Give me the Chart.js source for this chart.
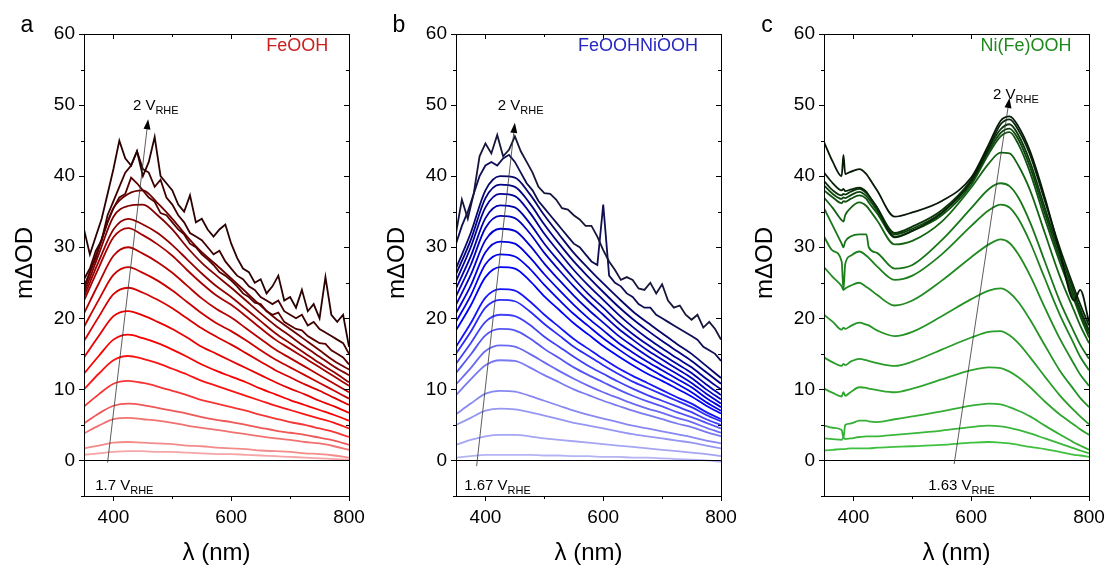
<!DOCTYPE html>
<html lang="en">
<head>
<meta charset="UTF-8">
<title>Spectroelectrochemistry of FeOOH, FeOOHNiOOH and Ni(Fe)OOH</title>
<style>
  body { margin: 0; background: #fff; width: 1110px; height: 572px; overflow: hidden; }
  .panel { position: absolute; top: 0; width: 370px; height: 572px; }
</style>
<script src="https://cdn.jsdelivr.net/npm/chart.js"></script>
</head>
<body>
<div class="panel" style="left:0"><canvas id="chartA"></canvas></div>
<div class="panel" style="left:372px"><canvas id="chartB"></canvas></div>
<div class="panel" style="left:740px"><canvas id="chartC"></canvas></div>

<script>
// wavelength grids (nm)
const wlCoarse = [350, 375, 400, 425, 450, 475, 500, 525, 550, 575, 600, 625, 650, 675, 700, 725, 750, 775, 800];
const wlFine = [350, 360, 370, 380, 390, 400, 410, 420, 430, 440, 450, 460, 470, 480, 490, 500, 510, 520, 530, 540,
                550, 560, 570, 580, 590, 600, 610, 620, 630, 640, 650, 660, 670, 680, 690, 700, 710, 720, 730, 740,
                750, 760, 770, 780, 790, 800];
const wlNiFe = [350, 365, 380, 383, 386, 395, 410, 422, 426, 440, 470, 500, 550, 600, 630, 650, 665, 680, 700, 725, 750, 775, 785, 800];

const xTickLabels = [400, 600, 800];
const yTickLabels = [0, 10, 20, 30, 40, 50, 60];

// panel a: FeOOH, 1.7 V -> 2 V (mΔOD)
const feooh01 = [0.8, 1.0, 1.2, 1.3, 1.3, 1.2, 1.2, 1.1, 1.0, 0.9, 0.9, 0.8, 0.7, 0.6, 0.5, 0.4, 0.3, 0.2, 0.1];
const feooh02 = [1.7, 2.1, 2.5, 2.6, 2.5, 2.4, 2.3, 2.1, 2.0, 1.8, 1.7, 1.6, 1.4, 1.3, 1.2, 1.0, 0.9, 0.7, 0.4];
const feooh03 = [3.8, 4.9, 5.8, 6.0, 5.8, 5.6, 5.3, 4.9, 4.6, 4.3, 4.0, 3.7, 3.4, 3.1, 2.9, 2.6, 2.4, 2.0, 1.5];
const feooh04 = [5.2, 6.6, 7.7, 8.0, 7.8, 7.4, 7.0, 6.6, 6.1, 5.7, 5.4, 5.0, 4.6, 4.2, 3.9, 3.6, 3.2, 2.8, 2.2];
const feooh05 = [7.6, 9.3, 10.8, 11.2, 10.9, 10.4, 9.8, 9.2, 8.5, 8.0, 7.5, 7.0, 6.4, 5.9, 5.4, 5.0, 4.5, 4.0, 3.3];
const feooh06 = [10.0, 12.2, 14.1, 14.7, 14.3, 13.7, 12.9, 12.1, 11.2, 10.5, 9.8, 9.1, 8.4, 7.7, 7.1, 6.5, 5.9, 5.3, 4.5];
const feooh07 = [12.2, 14.7, 17.0, 17.7, 17.2, 16.5, 15.6, 14.6, 13.5, 12.6, 11.8, 11.0, 10.1, 9.3, 8.5, 7.8, 7.1, 6.4, 5.6];
const feooh08 = [14.5, 17.5, 20.3, 21.0, 20.4, 19.5, 18.5, 17.3, 16.0, 15.0, 14.0, 13.0, 12.0, 11.0, 10.1, 9.3, 8.4, 7.6, 6.7];
const feooh09 = [16.8, 20.2, 23.4, 24.3, 23.6, 22.6, 21.4, 20.0, 18.6, 17.4, 16.3, 15.1, 13.9, 12.7, 11.7, 10.7, 9.8, 8.8, 7.8];
const feooh10 = [18.8, 22.6, 26.1, 27.2, 26.4, 25.3, 23.9, 22.3, 20.7, 19.3, 18.2, 16.9, 15.5, 14.2, 13.1, 12.0, 10.9, 9.8, 8.7];
const feooh11 = [20.7, 24.9, 28.8, 30.0, 29.1, 27.9, 26.4, 24.6, 22.8, 21.3, 20.1, 18.6, 17.1, 15.6, 14.4, 13.2, 12.0, 10.8, 9.6];
const feooh12 = [22.5, 27.1, 31.4, 32.7, 31.7, 30.4, 28.8, 26.8, 24.9, 23.2, 21.9, 20.3, 18.6, 17.0, 15.7, 14.4, 13.1, 11.8, 10.5];
const feooh13 = [23.0, 28.0, 32.5, 34.0, 33.2, 32.0, 30.3, 28.3, 26.3, 24.5, 23.0, 21.3, 19.6, 17.9, 16.5, 15.1, 13.7, 12.4, 11.0];
const feooh14 = [23.5, 29.0, 34.3, 35.8, 36.0, 34.5, 32.5, 30.0, 27.8, 26.0, 24.3, 22.5, 20.7, 19.0, 17.5, 16.0, 14.6, 13.2, 12.0];
const feooh15 = [24.0, 30.0, 35.5, 37.5, 38.0, 36.2, 34.0, 31.5, 29.3, 27.5, 25.6, 23.7, 21.8, 20.0, 18.5, 17.0, 15.5, 14.0, 12.8];
const feooh16 = [24.5, 26.5, 28.5, 31.0, 33.5, 35.5, 37.0, 37.5, 39.8, 39.0, 38.0, 37.0, 36.4, 34.8, 34.5, 33.5, 32.5, 31.8, 30.5, 30.0,
                 29.0, 28.3, 27.5, 26.5, 26.0, 25.3, 24.5, 23.5, 23.0, 22.2, 22.0, 21.0, 20.5, 20.8, 19.5, 19.0, 18.5, 18.3, 17.5, 17.0,
                 16.5, 16.4, 15.5, 15.0, 14.5, 13.5];
const feooh17 = [25.5, 27.0, 29.5, 31.0, 34.5, 36.5, 38.5, 40.5, 41.5, 43.5, 41.0, 40.5, 38.5, 39.5, 37.0, 36.0, 34.5, 33.5, 32.0, 31.5,
                 31.0, 30.0, 29.0, 29.5, 28.0, 27.0, 26.0, 25.5, 24.5, 24.0, 23.0, 22.5, 22.0, 22.5, 21.0, 20.5, 20.0, 20.5, 19.0, 19.5,
                 18.5, 18.0, 17.5, 17.0, 16.5, 15.0];
const feooh18 = [32.5, 29.0, 31.5, 34.0, 37.5, 41.0, 45.0, 42.5, 41.5, 43.5, 40.0, 42.0, 45.5, 40.0, 39.0, 38.0, 36.0, 35.0, 37.3, 33.5,
                 34.0, 32.5, 31.5, 32.5, 33.2, 30.5, 28.5, 27.0, 26.5, 25.0, 25.5, 23.5, 24.5, 26.0, 22.5, 23.0, 21.5, 24.0, 21.0, 22.0,
                 20.0, 25.8, 20.5, 19.5, 20.5, 16.0];

// panel b: FeOOHNiOOH, 1.67 V -> 2 V
const feni01 = [0.4, 0.6, 0.8, 0.8, 0.8, 0.8, 0.7, 0.7, 0.6, 0.6, 0.5, 0.5, 0.4, 0.4, 0.3, 0.2, 0.1, 0.0, -0.2];
const feni02 = [2.2, 2.9, 3.4, 3.6, 3.6, 3.4, 3.1, 2.9, 2.7, 2.5, 2.3, 2.1, 1.9, 1.7, 1.5, 1.3, 1.1, 0.9, 0.6];
const feni03 = [5.0, 6.0, 7.0, 7.3, 7.2, 6.8, 6.3, 5.8, 5.3, 4.9, 4.5, 4.1, 3.7, 3.4, 3.1, 2.8, 2.5, 2.1, 1.7];
const feni04 = [6.5, 8.0, 9.4, 9.8, 9.7, 9.1, 8.4, 7.7, 7.0, 6.4, 5.9, 5.4, 4.9, 4.5, 4.1, 3.7, 3.3, 2.8, 2.4];
const feni05 = [9.2, 11.4, 13.4, 14.1, 14.0, 13.1, 12.0, 11.0, 10.0, 9.2, 8.4, 7.7, 7.0, 6.4, 5.8, 5.2, 4.7, 4.0, 3.4];
const feni06 = [10.7, 13.0, 15.4, 16.2, 16.0, 15.0, 13.8, 12.6, 11.5, 10.5, 9.6, 8.8, 8.0, 7.3, 6.7, 6.0, 5.4, 4.6, 3.9];
const feni07 = [12.3, 14.9, 17.6, 18.5, 18.3, 17.2, 15.7, 14.4, 13.1, 12.0, 11.0, 10.0, 9.1, 8.3, 7.6, 6.8, 6.1, 5.3, 4.5];
const feni08 = [13.6, 16.5, 19.5, 20.5, 20.3, 19.1, 17.4, 16.0, 14.6, 13.3, 12.2, 11.1, 10.1, 9.2, 8.4, 7.6, 6.8, 5.8, 5.0];
const feni09 = [15.0, 18.1, 21.5, 22.6, 22.4, 21.0, 19.2, 17.6, 16.0, 14.7, 13.4, 12.2, 11.1, 10.2, 9.3, 8.4, 7.5, 6.4, 5.5];
const feni10 = [16.0, 19.3, 22.9, 24.1, 23.9, 22.4, 20.5, 18.8, 17.1, 15.7, 14.3, 13.0, 11.9, 10.9, 9.9, 8.9, 8.0, 6.8, 5.8];
const feni11 = [18.3, 21.8, 25.8, 27.2, 27.0, 25.3, 23.1, 21.2, 19.3, 17.7, 16.1, 14.7, 13.4, 12.2, 11.2, 10.1, 9.0, 7.7, 6.6];
const feni12 = [19.5, 23.2, 27.6, 29.0, 28.7, 27.0, 24.7, 22.6, 20.6, 18.9, 17.2, 15.7, 14.3, 13.1, 11.9, 10.8, 9.6, 8.2, 7.0];
const feni13 = [20.7, 24.6, 29.3, 30.8, 30.5, 28.6, 26.2, 24.0, 21.9, 20.0, 18.3, 16.6, 15.2, 13.9, 12.7, 11.5, 10.3, 8.8, 7.5];
const feni14 = [21.9, 26.1, 31.0, 32.6, 32.3, 30.3, 27.7, 25.4, 23.2, 21.2, 19.4, 17.6, 16.1, 14.7, 13.4, 12.2, 10.9, 9.4, 8.0];
const feni15 = [23.1, 27.5, 32.7, 34.4, 34.1, 32.0, 29.2, 26.8, 24.5, 22.4, 20.5, 18.6, 17.0, 15.5, 14.2, 12.9, 11.6, 10.0, 8.6];
const feni16 = [24.2, 28.7, 34.1, 35.9, 35.6, 33.4, 30.5, 28.0, 25.6, 23.4, 21.5, 19.5, 17.8, 16.3, 14.9, 13.6, 12.3, 10.7, 9.2];
const feni17 = [25.2, 30.0, 35.6, 37.5, 37.2, 34.9, 31.9, 29.3, 26.8, 24.6, 22.6, 20.6, 18.8, 17.2, 15.8, 14.4, 13.1, 11.5, 10.0];
const feni18 = [26.2, 31.0, 36.9, 38.8, 38.5, 36.2, 33.2, 30.5, 28.0, 25.8, 23.7, 21.7, 19.9, 18.3, 16.8, 15.4, 14.0, 12.4, 10.8];
const feni19 = [27.0, 32.0, 38.0, 40.0, 39.8, 37.5, 34.5, 31.8, 29.2, 27.0, 24.9, 22.9, 21.0, 19.4, 17.9, 16.4, 15.0, 13.3, 11.6];
const feni20 = [30.5, 33.0, 35.0, 37.5, 40.0, 41.5, 42.0, 41.5, 42.5, 43.0, 42.0, 40.5, 39.0, 38.0, 36.5, 35.5, 34.5, 33.5, 32.5, 31.5,
                30.5, 30.0, 29.0, 28.0, 27.5, 36.0, 26.0, 25.0, 24.5, 23.5, 23.0, 22.0, 21.5, 21.5, 20.5, 20.0, 19.5, 19.0, 18.5, 18.0,
                17.5, 17.0, 16.0, 15.5, 15.0, 14.0];
const feni21 = [32.0, 36.7, 34.0, 37.5, 42.8, 44.6, 43.2, 45.8, 42.8, 43.7, 45.6, 43.5, 42.0, 40.5, 38.5, 37.6, 37.5, 36.7, 35.5, 35.3,
                34.5, 33.9, 33.0, 33.0, 31.5, 29.6, 28.0, 26.8, 25.4, 25.8, 25.4, 24.2, 24.0, 25.0, 23.5, 24.8, 22.5, 21.5, 21.8, 20.5,
                19.8, 20.5, 18.7, 19.5, 18.5, 17.0];

// panel c: Ni(Fe)OOH, 1.63 V -> 2 V
const nife01 = [1.4, 1.5, 1.6, 1.6, 1.6, 1.7, 1.7, 1.7, 1.7, 1.8, 1.9, 2.0, 2.2, 2.5, 2.6, 2.5, 2.4, 2.2, 1.9, 1.6, 1.2, 0.8, 0.7, 0.5];
const nife02 = [3.1, 3.0, 2.9, 3.2, 3.0, 3.1, 3.3, 3.4, 3.4, 3.4, 3.6, 3.8, 4.2, 4.7, 4.9, 4.8, 4.6, 4.3, 3.8, 3.1, 2.4, 1.7, 1.4, 1.0];
const nife03 = [4.9, 4.6, 4.3, 3.2, 5.0, 5.2, 5.6, 5.6, 5.5, 5.4, 5.8, 6.2, 6.9, 7.7, 8.0, 7.9, 7.5, 7.0, 6.2, 4.9, 3.7, 2.5, 2.1, 1.5];
const nife04 = [10.1, 9.5, 9.0, 9.6, 9.1, 9.6, 10.3, 10.2, 10.1, 9.9, 9.6, 10.1, 11.4, 12.7, 13.1, 13.0, 12.5, 11.7, 10.3, 8.3, 6.5, 5.0, 4.4, 3.6];
const nife05 = [14.5, 13.8, 13.3, 13.6, 13.4, 13.9, 14.3, 14.1, 14.0, 13.7, 13.3, 13.9, 15.6, 17.3, 18.1, 18.2, 17.6, 16.5, 14.5, 11.8, 9.2, 7.0, 6.2, 5.1];
const nife06 = [20.5, 19.5, 18.4, 18.7, 18.5, 18.9, 19.4, 19.1, 19.0, 18.3, 17.5, 18.1, 20.3, 22.7, 23.9, 24.2, 23.6, 22.3, 19.8, 16.2, 12.7, 9.9, 8.8, 7.5];
const nife07 = [27.2, 25.8, 24.5, 24.0, 24.2, 24.6, 25.0, 24.4, 24.2, 23.3, 21.8, 22.5, 25.3, 28.6, 30.4, 31.1, 30.6, 29.0, 26.0, 21.5, 17.2, 13.5, 12.1, 10.5];
const nife08 = [31.5, 29.5, 28.0, 24.0, 27.6, 28.8, 29.4, 28.8, 28.5, 27.3, 25.4, 26.0, 29.0, 33.0, 35.2, 36.0, 35.6, 34.0, 30.7, 25.6, 20.6, 16.3, 14.6, 12.7];
const nife09 = [35.5, 33.0, 30.5, 30.0, 30.8, 31.5, 31.8, 31.8, 30.0, 29.2, 27.0, 27.5, 31.0, 35.5, 38.2, 39.0, 38.6, 37.0, 33.5, 28.0, 22.5, 18.0, 16.3, 14.3];
const nife10 = [37.0, 35.5, 33.8, 33.6, 34.5, 35.5, 36.3, 35.8, 35.4, 33.8, 30.4, 30.9, 33.6, 38.4, 41.8, 43.3, 43.2, 41.5, 38.0, 32.0, 26.0, 21.0, 19.0, 16.5];
const nife11 = [38.0, 37.0, 36.2, 36.5, 36.4, 36.8, 37.3, 36.8, 36.3, 34.8, 31.5, 32.3, 34.5, 38.8, 43.2, 45.6, 46.2, 44.5, 40.5, 34.0, 28.0, 22.5, 20.3, 17.3];
const nife12 = [38.7, 37.5, 36.8, 37.0, 36.9, 37.3, 37.8, 37.2, 36.8, 35.2, 31.8, 32.6, 34.9, 39.2, 43.6, 46.1, 46.7, 45.2, 41.3, 34.8, 28.6, 23.0, 20.8, 17.8];
const nife13 = [39.3, 38.0, 37.3, 37.5, 37.4, 37.8, 38.2, 37.6, 37.2, 35.6, 32.0, 32.9, 35.2, 39.5, 44.0, 46.6, 47.3, 45.8, 42.0, 35.5, 29.3, 23.6, 21.3, 18.3];
const nife14 = [40.5, 39.0, 38.0, 38.2, 37.9, 38.1, 38.4, 37.8, 37.3, 35.6, 31.4, 32.3, 34.8, 39.2, 44.0, 47.3, 48.0, 46.5, 43.0, 36.5, 30.0, 24.2, 22.0, 19.0];
const nife15 = [44.8, 42.0, 40.0, 43.0, 40.3, 40.6, 41.0, 40.3, 39.8, 38.0, 34.3, 34.9, 36.5, 39.8, 44.5, 47.8, 48.4, 47.0, 43.5, 37.0, 29.5, 22.5, 24.0, 19.5];

const feoohSeries = [
  [wlCoarse, feooh01], [wlCoarse, feooh02], [wlCoarse, feooh03], [wlCoarse, feooh04], [wlCoarse, feooh05],
  [wlCoarse, feooh06], [wlCoarse, feooh07], [wlCoarse, feooh08], [wlCoarse, feooh09], [wlCoarse, feooh10],
  [wlCoarse, feooh11], [wlCoarse, feooh12], [wlCoarse, feooh13], [wlCoarse, feooh14], [wlCoarse, feooh15],
  [wlFine, feooh16], [wlFine, feooh17], [wlFine, feooh18]
];
const feniSeries = [
  [wlCoarse, feni01], [wlCoarse, feni02], [wlCoarse, feni03], [wlCoarse, feni04], [wlCoarse, feni05],
  [wlCoarse, feni06], [wlCoarse, feni07], [wlCoarse, feni08], [wlCoarse, feni09], [wlCoarse, feni10],
  [wlCoarse, feni11], [wlCoarse, feni12], [wlCoarse, feni13], [wlCoarse, feni14], [wlCoarse, feni15],
  [wlCoarse, feni16], [wlCoarse, feni17], [wlCoarse, feni18], [wlCoarse, feni19],
  [wlFine, feni20], [wlFine, feni21]
];
const nifeSeries = [nife01, nife02, nife03, nife04, nife05, nife06, nife07, nife08, nife09, nife10,
                    nife11, nife12, nife13, nife14, nife15].map(v => [wlNiFe, v]);

const FONT = '"Liberation Sans", Arial, sans-serif';

// colour ramps, light (low potential) -> dark (2 V)
const redRamp = [[0, '#f5a5a5'], [0.18, '#f05555'], [0.33, '#ff0000'], [0.5, '#d00000'], [0.75, '#880000'], [1, '#2a0000']];
const blueRamp = [[0, '#b4b4f4'], [0.25, '#6a6af2'], [0.5, '#0000ff'], [0.7, '#0000c0'], [0.86, '#000080'], [1, '#16163c']];
const greenRamp = [[0, '#40c040'], [0.3, '#289a28'], [0.55, '#1a7a1a'], [0.75, '#0e4a0e'], [1, '#061806']];

function hex2rgb(h) {
  return [1, 3, 5].map(i => parseInt(h.slice(i, i + 2), 16));
}
function shade(stops, t) {
  for (let i = 1; i < stops.length; i++) {
    if (t <= stops[i][0]) {
      const [t0, c0] = stops[i - 1], [t1, c1] = stops[i];
      const f = (t - t0) / (t1 - t0);
      const a = hex2rgb(c0), b = hex2rgb(c1);
      return 'rgb(' + a.map((v, k) => Math.round(v + (b[k] - v) * f)).join(',') + ')';
    }
  }
  return stops[stops.length - 1][1];
}

function buildSets(series, ramp) {
  const n = series.length;
  return series.map(([wl, vals], i) => ({
    data: vals.map((v, k) => ({ x: wl[k], y: v })),
    borderColor: shade(ramp, i / (n - 1)),
    borderWidth: 1.8,
    pointRadius: 0,
    cubicInterpolationMode: wl === wlFine ? 'default' : 'monotone',
    tension: 0,
    order: n - i
  }));
}

function line(ctx, x1, y1, x2, y2) {
  ctx.beginPath(); ctx.moveTo(x1, y1); ctx.lineTo(x2, y2); ctx.stroke();
}

function subText(ctx, main, sub, x, y) {
  ctx.textAlign = 'left';
  ctx.textBaseline = 'alphabetic';
  ctx.font = '15px ' + FONT;
  ctx.fillText(main, x, y);
  const w = ctx.measureText(main).width;
  ctx.font = '11px ' + FONT;
  ctx.fillText(sub, x + w, y + 4);
}

// frame, ticks, zero line, arrow and labels
const decor = {
  id: 'decor',
  afterDraw(chart, args, o) {
    const { ctx, chartArea: a, scales: { x, y } } = chart;
    ctx.save();
    ctx.strokeStyle = '#000';
    ctx.fillStyle = '#000';
    ctx.lineWidth = 1;

    const y0 = Math.round(y.getPixelForValue(0)) + 0.5;
    line(ctx, a.left, y0, a.right, y0);
    ctx.strokeRect(Math.round(a.left) + 0.5, Math.round(a.top) + 0.5, Math.round(a.right - a.left), Math.round(a.bottom - a.top));

    for (let v = -5; v <= 60; v += 5) {
      const py = Math.round(y.getPixelForValue(v)) + 0.5;
      const len = v % 10 === 0 ? 5 : 3;
      line(ctx, a.left - len, py, a.left, py);
      line(ctx, a.right - len, py, a.right, py);
    }
    for (let v = 400; v <= 800; v += 100) {
      const px = Math.round(x.getPixelForValue(v)) + 0.5;
      const len = v % 200 === 0 ? 5 : 3;
      line(ctx, px, a.bottom, px, a.bottom + len);
      line(ctx, px, a.top, px, a.top + len);
    }

    // potential arrow
    const p1 = [x.getPixelForValue(o.arrow[0]), y.getPixelForValue(o.arrow[1])];
    const p2 = [x.getPixelForValue(o.arrow[2]), y.getPixelForValue(o.arrow[3])];
    const ang = Math.atan2(p2[1] - p1[1], p2[0] - p1[0]);
    const hl = 10, hw = 3.5;
    const bx = p2[0] - hl * Math.cos(ang), by = p2[1] - hl * Math.sin(ang);
    ctx.strokeStyle = '#333';
    ctx.lineWidth = 0.8;
    line(ctx, p1[0], p1[1], bx, by);
    ctx.beginPath();
    ctx.moveTo(p2[0], p2[1]);
    ctx.lineTo(bx + hw * Math.sin(ang), by - hw * Math.cos(ang));
    ctx.lineTo(bx - hw * Math.sin(ang), by + hw * Math.cos(ang));
    ctx.closePath();
    ctx.fill();

    subText(ctx, o.low[0], 'RHE', x.getPixelForValue(o.low[1]), y.getPixelForValue(o.low[2]));
    subText(ctx, '2 V', 'RHE', x.getPixelForValue(o.high[0]), y.getPixelForValue(o.high[1]));

    // sample name
    ctx.fillStyle = o.nameColor;
    ctx.font = '18px ' + FONT;
    ctx.textAlign = 'center';
    ctx.textBaseline = 'middle';
    ctx.fillText(o.name, x.getPixelForValue(o.namePos[0]), y.getPixelForValue(o.namePos[1]));

    // panel letter and axis titles
    ctx.fillStyle = '#000';
    ctx.font = '23px ' + FONT;
    ctx.fillText(o.letter, 27, 26);
    ctx.font = '24px ' + FONT;
    ctx.fillText('\u03bb (nm)', (a.left + a.right) / 2, 553);
    ctx.save();
    ctx.translate(25, (a.top + a.bottom) / 2 - 2);
    ctx.rotate(-Math.PI / 2);
    ctx.font = '24px ' + FONT;
    ctx.fillText('m\u0394OD', 0, 0);
    ctx.restore();

    ctx.restore();
  }
};

function makeChart(id, series, ramp, deco) {
  return new Chart(document.getElementById(id), {
    type: 'line',
    data: { datasets: buildSets(series, ramp) },
    options: {
      responsive: true,
      maintainAspectRatio: false,
      animation: false,
      layout: { padding: { top: 34, right: 21, bottom: 0, left: 0 } },
      scales: {
        x: {
          type: 'linear', min: 350, max: 800,
          grid: { display: false, drawTicks: false }, border: { display: false },
          ticks: {
            stepSize: 100, includeBounds: false, autoSkip: false, maxRotation: 0, padding: 10,
            color: '#000', font: { size: 19, family: FONT },
            callback: v => (xTickLabels.includes(v) ? v : '')
          },
          afterFit: s => { s.height = 76; s.paddingLeft = 0; s.paddingRight = 0; }
        },
        y: {
          min: -5, max: 60,
          grid: { display: false, drawTicks: false }, border: { display: false },
          ticks: {
            stepSize: 5, autoSkip: false, padding: 9,
            color: '#000', font: { size: 19, family: FONT },
            callback: v => (yTickLabels.includes(v) ? v : '')
          },
          afterFit: s => { s.width = 84; s.paddingTop = 0; s.paddingBottom = 0; }
        }
      },
      plugins: {
        legend: { display: false },
        tooltip: { enabled: false },
        decor: deco
      }
    },
    plugins: [decor]
  });
}

makeChart('chartA', feoohSeries, redRamp, {
  letter: 'a', name: 'FeOOH', nameColor: '#cc2020', namePos: [712, 58.3],
  arrow: [390, -0.3, 459, 48], low: ['1.7 V', 369, -4.1], high: [433, 49.3]
});
makeChart('chartB', feniSeries, blueRamp, {
  letter: 'b', name: 'FeOOHNiOOH', nameColor: '#2828c0', namePos: [659, 58.3],
  arrow: [385, -0.8, 450, 47.5], low: ['1.67 V', 364, -4.1], high: [421, 49.3]
});
makeChart('chartC', nifeSeries, greenRamp, {
  letter: 'c', name: 'Ni(Fe)OOH', nameColor: '#1e8a1e', namePos: [693, 58.3],
  arrow: [571, -0.5, 665, 51], low: ['1.63 V', 527, -4.2], high: [637, 50.9]
});
</script>
</body>
</html>
